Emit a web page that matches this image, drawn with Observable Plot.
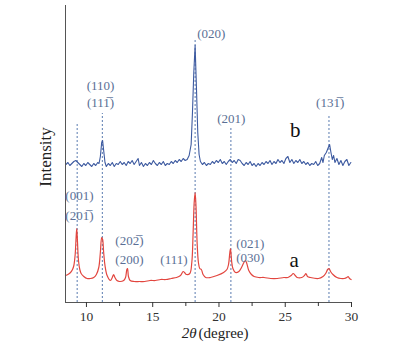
<!DOCTYPE html>
<html><head><meta charset="utf-8">
<script src="https://cdn.jsdelivr.net/npm/d3@7"></script>
<script src="https://cdn.jsdelivr.net/npm/@observablehq/plot@0.6"></script>
<style>body{margin:0;background:#fff} svg text{font-family:'Liberation Serif','Times New Roman',serif;}</style>
</head><body><div id="chart"></div>
<script>
// Curve a (red)
const aX = [8.42,8.6,8.8,8.95,9.05,9.15,9.22,9.27,9.32,9.4,9.5,9.6,9.8,10.05,10.3,10.55,10.75,10.93,11.05,11.15,11.22,11.3,11.4,11.56,11.81,11.95,12.05,12.15,12.3,12.5,12.81,12.95,13.05,13.1,13.17,13.3,13.6,14.0,14.4,14.8,15.2,15.6,16.0,16.4,16.8,17.1,17.3,17.4,17.55,17.8,17.95,18.05,18.13,18.2,18.27,18.35,18.45,18.55,18.67,18.8,19.0,19.35,19.85,20.35,20.6,20.72,20.82,20.87,20.95,21.05,21.25,21.5,21.7,21.88,22.0,22.1,22.25,22.45,22.65,23.0,23.4,23.9,24.4,24.9,25.2,25.45,25.6,25.75,25.9,26.25,26.45,26.56,26.68,26.9,27.5,27.85,28.05,28.2,28.3,28.42,28.6,28.9,29.2,29.45,29.65,29.75,29.85,29.97];
const aY = [27,28,30,33,37,48,65,74,62,42,33,29,26,24,24,25,28,35,50,65,63,50,37,27,22,25,28,25,22,21,22,25,33,34,26,22,21,21,21,22,22,23,23,24,25,27,31,30,28,29,40,70,100,110,95,60,40,34,33,28,25,25,27,30,33,38,50,54,42,34,30,31,35,40,42,39,32,28,26,25,25,24,24,25,25,27,29,27,25,25,27,29,26,25,24,26,29,33,34,31,28,25,24,24,25,26,24,23];
// Curve b (blue)
const bX = [8.45,8.6,8.75,8.9,9.05,9.2,9.35,9.5,9.65,9.8,9.95,10.1,10.25,10.4,10.55,10.7,10.85,10.95,11.05,11.15,11.22,11.3,11.4,11.5,11.65,11.8,11.95,12.1,12.25,12.4,12.55,12.7,12.85,13.0,13.15,13.3,13.45,13.6,13.75,13.9,14.0,14.15,14.3,14.45,14.6,14.75,14.9,15.05,15.2,15.35,15.5,15.65,15.8,15.95,16.1,16.25,16.4,16.55,16.7,16.85,17.0,17.15,17.3,17.45,17.6,17.75,17.9,18.0,18.1,18.2,18.3,18.4,18.5,18.6,18.75,18.9,19.05,19.2,19.35,19.5,19.65,19.8,19.95,20.1,20.25,20.4,20.55,20.7,20.85,21.0,21.15,21.3,21.45,21.6,21.75,21.9,22.05,22.2,22.35,22.5,22.65,22.8,22.95,23.1,23.25,23.4,23.55,23.7,23.85,24.0,24.15,24.3,24.45,24.6,24.75,24.9,25.05,25.2,25.35,25.5,25.65,25.8,25.95,26.1,26.25,26.4,26.55,26.7,26.85,27.0,27.15,27.3,27.45,27.6,27.75,27.85,27.95,28.1,28.25,28.35,28.45,28.55,28.65,28.75,28.9,29.05,29.2,29.35,29.5,29.65,29.8,29.95];
const bY = [138,140,137,139,141,142,140,138,136,139,137,140,138,136,139,137,140,139,146,160,162,152,140,136,139,137,140,136,139,138,141,138,140,137,141,139,142,138,141,144,137,140,136,139,137,140,138,142,139,137,140,138,141,137,139,138,141,139,142,140,143,141,144,142,143,147,158,190,230,257,215,170,148,141,138,140,137,139,138,141,139,142,140,143,139,141,138,141,143,140,142,139,143,142,139,137,140,138,141,137,139,136,139,137,140,138,141,139,142,138,141,139,143,140,142,139,144,146,140,143,139,142,140,143,139,141,138,140,137,139,138,141,137,139,145,140,147,150,155,158,150,143,147,140,144,138,142,137,141,143,137,140];
// Reflection marker lines
const peakX = [9.3, 11.2, 18.2, 20.9, 28.3];
const peakTop = [180, 189, 262, 174, 187];
// Miller index labels
const hklText = ["(110)","(11\u0031\u0305)","(020)","(201)","(13\u0031\u0305)","(001)","(20\u0031\u0305)","(20\u0032\u0305)","(200)","(111)","(021)","(030)"];
const hklX = [11.06,11.06,19.42,20.93,28.39,9.47,9.47,13.24,13.24,16.6,22.36,22.36];
const hklY = [217,200,269,184,200,107,87,62,43,43,59,45];
// Series names
const seriesName = ["a","b"];
const seriesX = [25.68, 25.75];
const seriesY = [42, 172];
const majorTicks = [10,15,20,25,30];
const minorTicks = [12.5,17.5,22.5,27.5];
const xDomain = [8.42, 30];
const yDomain = [0, 297];

const aData = aX.map((x,i)=>({x, y:aY[i]}));
const bData = bX.map((x,i)=>({x, y:bY[i]}));
const peaks = peakX.map((x,i)=>({x, top:peakTop[i]}));
const hkl = hklText.map((t,i)=>({t, x:hklX[i], y:hklY[i]}));
const names = seriesName.map((t,i)=>({t, x:seriesX[i], y:seriesY[i]}));

const font = "'Liberation Serif', 'Times New Roman', serif";
const labelColor = "#5a6f95";

const chart = Plot.plot({
  width: 394, height: 354,
  marginLeft: 65, marginRight: 43, marginTop: 5, marginBottom: 52,
  style: {fontFamily: font, background: "#fff"},
  x: {domain: xDomain},
  y: {domain: yDomain, axis: null},
  marks: [
    Plot.ruleX(peaks, {x: "x", y1: 0, y2: "top", stroke: "#5a7bb0", strokeWidth: 1, strokeDasharray: "2,2"}),
    Plot.line(aData, {x: "x", y: "y", stroke: "#e2463f", strokeWidth: 1.2, curve: "catmull-rom"}),
    Plot.line(bData, {x: "x", y: "y", stroke: "#3d5aa0", strokeWidth: 1.1, curve: "linear"}),
    Plot.ruleY([0], {stroke: "#555", strokeWidth: 1}),
    Plot.ruleX([xDomain[0]], {stroke: "#555", strokeWidth: 1}),
    Plot.axisX({ticks: majorTicks, tickSize: 5, tickPadding: 4, fontSize: 13.5, color: "#333", label: null, fontFamily: font}),
    Plot.axisX({ticks: minorTicks, tickSize: 4, tickFormat: () => "", label: null, color: "#333"}),
    Plot.text(hkl, {x: "x", y: "y", text: "t", fill: labelColor, fontSize: 13, fontFamily: font}),
    Plot.text(names, {x: "x", y: "y", text: "t", fill: "#111", fontSize: 21, fontFamily: font}),
    Plot.text(["2\u03B8"], {frameAnchor: "bottom", textAnchor: "end", dx: -12, dy: 35, fontStyle: "italic", fontSize: 15, fill: "#222", fontFamily: font}),
    Plot.text(["(degree)"], {frameAnchor: "bottom", textAnchor: "start", dx: -10, dy: 35, fontSize: 15, fill: "#222", fontFamily: font}),
    Plot.text(["Intensity"], {frameAnchor: "left", textAnchor: "middle", dx: -20, dy: 3, rotate: -90, fontSize: 17, fill: "#222", fontFamily: font})
  ]
});
document.getElementById("chart").appendChild(chart);
</script>
</body></html>
